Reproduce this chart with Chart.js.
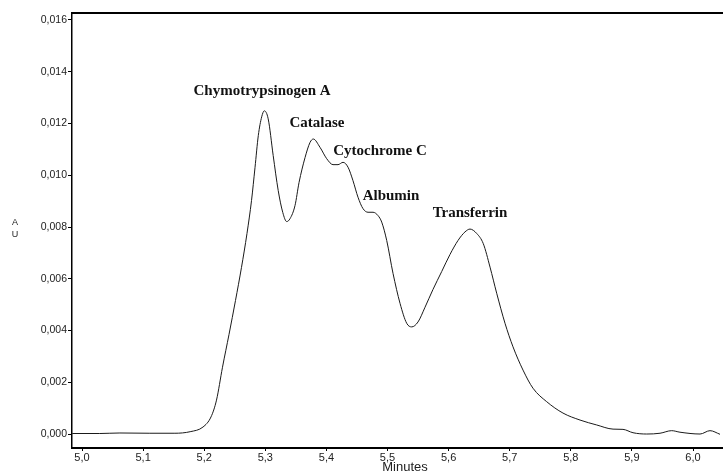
<!DOCTYPE html>
<html><head><meta charset="utf-8">
<script src="https://cdn.jsdelivr.net/npm/chart.js@4/dist/chart.umd.min.js"></script>
<style>html,body{margin:0;padding:0;background:#fff;overflow:hidden}#wrap{width:723px;height:473px}</style>
</head><body><div id="wrap"><canvas id="c" width="723" height="473"></canvas></div>
<script>
const times = [4.984, 5.029, 5.062, 5.111, 5.152, 5.177, 5.198, 5.2111, 5.2201, 5.2299, 5.2406, 5.2512, 5.261, 5.27, 5.2774, 5.2831, 5.2885, 5.2941, 5.2984, 5.3047, 5.3129, 5.3211, 5.3286, 5.335, 5.3404, 5.3486, 5.3552, 5.365, 5.3732, 5.3786, 5.3895, 5.4005, 5.4108, 5.419, 5.4272, 5.4354, 5.4435, 5.4517, 5.4599, 5.4681, 5.4763, 5.4845, 5.4905, 5.4987, 5.509, 5.5205, 5.5314, 5.5396, 5.5499, 5.5614, 5.5745, 5.5887, 5.6023, 5.6154, 5.6268, 5.635, 5.646, 5.6567, 5.6678, 5.6787, 5.6923, 5.7054, 5.7218, 5.7381, 5.7605, 5.7872, 5.8151, 5.8424, 5.8691, 5.8854, 5.9018, 5.9242, 5.946, 5.9651, 5.9787, 6.0115, 6.0278, 6.0442];
const absorbance = [0.00002, 0.00002, 0.00004, 0.00003, 0.00003, 0.00009, 0.00027, 0.00066, 0.00131, 0.00258, 0.00385, 0.00516, 0.00644, 0.00775, 0.00902, 0.01029, 0.01153, 0.01226, 0.01249, 0.01218, 0.01076, 0.00941, 0.00856, 0.00821, 0.00832, 0.00883, 0.00972, 0.01068, 0.01127, 0.0114, 0.01108, 0.01064, 0.01041, 0.01041, 0.0105, 0.01031, 0.00979, 0.00915, 0.00871, 0.00857, 0.00857, 0.00844, 0.00819, 0.00748, 0.00621, 0.00505, 0.00428, 0.00414, 0.00433, 0.0049, 0.00559, 0.00628, 0.00694, 0.00748, 0.00781, 0.00792, 0.00775, 0.00736, 0.00645, 0.00544, 0.00428, 0.00337, 0.00247, 0.00177, 0.00125, 0.00081, 0.00054, 0.00035, 0.00019, 0.00018, 0.00005, 0.0, 0.00003, 0.00013, 0.00007, 0.0, 0.00013, -0.00001];
const xTicks = [5.0, 5.1, 5.2, 5.3, 5.4, 5.5, 5.6, 5.7, 5.8, 5.9, 6.0];
const yTicks = [0.000, 0.002, 0.004, 0.006, 0.008, 0.010, 0.012, 0.014, 0.016];
const peakNames = ["Chymotrypsinogen A", "Catalase", "Cytochrome C", "Albumin", "Transferrin"];
const peakLabelX = [5.2946, 5.3846, 5.4877, 5.5057, 5.635];
const peakLabelY = [0.01326, 0.01203, 0.01095, 0.00921, 0.00852];
const xTitle = "Minutes";
const yTitle = "AU";

const overlay = {
  id: 'overlay',
  afterDraw(chart) {
    const {ctx, chartArea, scales: {x, y}} = chart;
    ctx.save();
    ctx.strokeStyle = '#000';
    ctx.lineWidth = 2;
    ctx.beginPath();
    ctx.moveTo(chartArea.left, chartArea.top);
    ctx.lineTo(chartArea.right, chartArea.top);
    ctx.stroke();
    ctx.fillStyle = '#111';
    ctx.font = 'bold 15px "Liberation Serif"';
    ctx.textAlign = 'center';
    ctx.textBaseline = 'middle';
    peakNames.forEach((n, i) => {
      ctx.fillText(n, x.getPixelForValue(peakLabelX[i]), y.getPixelForValue(peakLabelY[i]));
    });
    ctx.fillStyle = '#222';
    ctx.font = '13px "Liberation Sans"';
    ctx.textBaseline = 'alphabetic';
    ctx.fillText(xTitle, 405, 471);
    ctx.font = '9px "Liberation Sans"';
    yTitle.split('').forEach((ch, i) => ctx.fillText(ch, 15, 225 + i * 12));
    ctx.restore();
  }
};

new Chart(document.getElementById('c'), {
  type: 'line',
  data: {
    datasets: [{
      data: times.map((t, i) => ({x: t, y: absorbance[i]})),
      borderColor: '#1a1a1a',
      borderWidth: 1,
      pointRadius: 0,
      fill: false,
      cubicInterpolationMode: 'monotone'
    }]
  },
  options: {
    responsive: false,
    animation: false,
    layout: {padding: {top: 13, right: 0, left: 0, bottom: 0}},
    plugins: {legend: {display: false}, tooltip: {enabled: false}},
    scales: {
      x: {
        type: 'linear',
        min: 4.9836,
        max: 6.0491,
        afterBuildTicks: s => { s.ticks = xTicks.map(v => ({value: v})); },
        afterFit: s => { s.height = 25; },
        ticks: {
          autoSkip: false, maxRotation: 0, padding: 0,
          color: '#222',
          font: {family: 'Liberation Sans', size: 11},
          callback: v => v.toFixed(1).replace('.', ',')
        },
        grid: {display: true, drawOnChartArea: false, drawTicks: true, tickLength: 3, color: '#000'},
        border: {display: true, color: '#000', width: 2}
      },
      y: {
        type: 'linear',
        min: -0.00054,
        max: 0.01627,
        afterBuildTicks: s => { s.ticks = yTicks.map(v => ({value: v})); },
        afterFit: s => { s.width = 72; },
        ticks: {
          autoSkip: false, padding: 1,
          color: '#222',
          font: {family: 'Liberation Sans', size: 10.5},
          callback: v => v.toFixed(3).replace('.', ',')
        },
        grid: {display: true, drawOnChartArea: false, drawTicks: true, tickLength: 4, color: '#000'},
        border: {display: true, color: '#000', width: 1.5}
      }
    }
  },
  plugins: [overlay]
});
</script>
</body></html>
